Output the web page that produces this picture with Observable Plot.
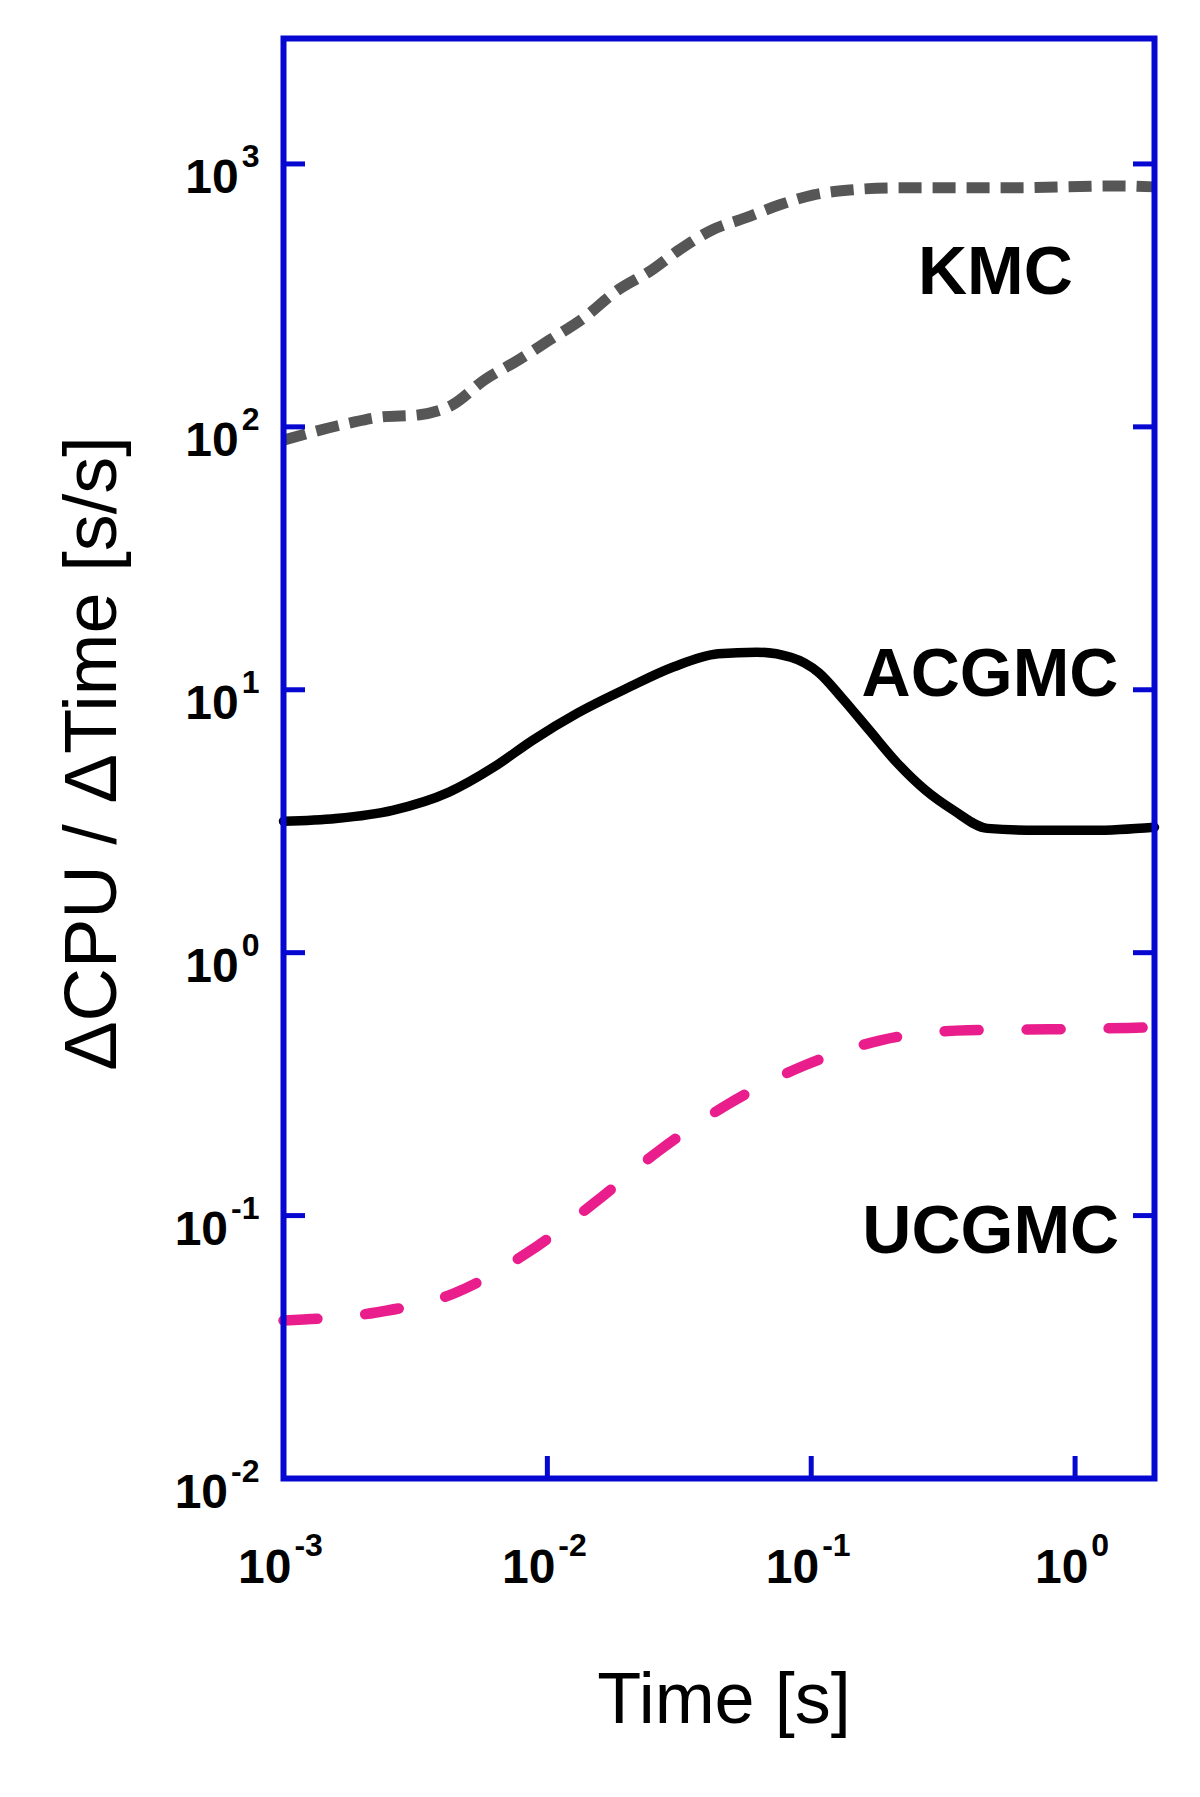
<!DOCTYPE html>
<html>
<head>
<meta charset="utf-8">
<script src="https://cdn.jsdelivr.net/npm/d3@7"></script>
<script src="https://cdn.jsdelivr.net/npm/@observablehq/plot@0.6"></script>
<style>
  html, body { margin: 0; padding: 0; background: #ffffff; }
  #chart svg { display: block; }
</style>
</head>
<body>
<div id="chart"></div>
<script>
// ---- data ----
const xTicks = [0.001, 0.01, 0.1, 1];
const yTicks = [0.01, 0.1, 1, 10, 100, 1000];

const kmcTime = [0.001, 0.00175, 0.00234, 0.00324, 0.00435, 0.00579, 0.0078, 0.0102, 0.0137, 0.0184, 0.0246, 0.0316, 0.0421, 0.0566, 0.076, 0.102, 0.14, 0.212, 0.567, 1.5, 2];
const kmcRate = [89, 103, 109, 111, 121, 151, 180, 214, 259, 330, 392, 471, 561, 625, 699, 763, 796, 811, 811, 825, 818];

const acgTime = [0.001, 0.00158, 0.00259, 0.00424, 0.00627, 0.0088, 0.013, 0.0203, 0.03, 0.0444, 0.0622, 0.0837, 0.107, 0.131, 0.166, 0.212, 0.271, 0.346, 0.465, 0.724, 1.18, 2];
const acgRate = [3.16, 3.24, 3.48, 4.08, 5.08, 6.43, 8.15, 10.2, 12.2, 13.7, 13.9, 13.3, 11.6, 9.3, 7.02, 5.26, 4.15, 3.48, 2.97, 2.92, 2.92, 3.0];

const ucgTime = [0.001, 0.00224, 0.00443, 0.00843, 0.0151, 0.0266, 0.0489, 0.0946, 0.183, 0.391, 0.797, 2];
const ucgRate = [0.0399, 0.0428, 0.0506, 0.0724, 0.112, 0.177, 0.267, 0.373, 0.464, 0.507, 0.511, 0.52];

const seriesNames = ["KMC", "ACGMC", "UCGMC"];
const labelTime = [0.98, 1.46, 1.47];
const labelRate = [386, 11.5, 0.0875];

const xTitle = "Time [s]";
const yTitle = "\u0394CPU / \u0394Time [s/s]";

// ---- tables built from the arrays ----
const zip = (t, v) => t.map((d, i) => ({t: d, v: v[i]}));
const kmc = zip(kmcTime, kmcRate);
const acg = zip(acgTime, acgRate);
const ucg = zip(ucgTime, ucgRate);
const labels = seriesNames.map((n, i) => ({name: n, t: labelTime[i], v: labelRate[i]}));

// ---- style ----
const blue = "#0707d2";
const fs10 = 48, fsE = 32;
const expStr = d => String(Math.round(Math.log10(d)));
const charW = c => (c === "-" ? 0.333 : 0.556);
const expWidth = s => [...s].reduce((a, c) => a + charW(c), 0) * fsE;
const w10 = 1.112 * fs10;

function yTickLabels(ticks) {
  const groups = [ticks.filter(d => d >= 1), ticks.filter(d => d < 1)];
  const marks = [];
  for (const g of groups) {
    if (!g.length) continue;
    const we = expWidth(expStr(g[0]));
    marks.push(Plot.text(g, {y: d => d, frameAnchor: "left", text: d => expStr(d), textAnchor: "end", lineAnchor: "bottom", dx: -24, dy: 3, fontSize: fsE, fontWeight: "bold", fill: "black"}));
    marks.push(Plot.text(g, {y: d => d, frameAnchor: "left", text: () => "10", textAnchor: "end", lineAnchor: "bottom", dx: -24 - we - 3, dy: 29, fontSize: fs10, fontWeight: "bold", fill: "black"}));
  }
  return marks;
}

function xTickLabels(ticks) {
  const groups = [ticks.filter(d => d >= 1), ticks.filter(d => d < 1)];
  const marks = [];
  for (const g of groups) {
    if (!g.length) continue;
    const we = expWidth(expStr(g[0]));
    const gap = 3;
    const start = -(w10 + gap + we) / 2 - 3;
    marks.push(Plot.text(g, {x: d => d, frameAnchor: "bottom", text: () => "10", textAnchor: "start", lineAnchor: "bottom", dx: start, dy: 104, fontSize: fs10, fontWeight: "bold", fill: "black"}));
    marks.push(Plot.text(g, {x: d => d, frameAnchor: "bottom", text: d => expStr(d), textAnchor: "start", lineAnchor: "bottom", dx: start + w10 + gap, dy: 77, fontSize: fsE, fontWeight: "bold", fill: "black"}));
  }
  return marks;
}

const chart = Plot.plot({
  width: 1200,
  height: 1797,
  marginLeft: 283,
  marginRight: 46,
  marginTop: 38,
  marginBottom: 319,
  style: {fontFamily: "'Liberation Sans', Arial, Helvetica, sans-serif", background: "#ffffff", color: "black"},
  x: {type: "log", domain: [0.001, 2], label: null},
  y: {type: "log", domain: [0.01, 3000], label: null},
  marks: [
    Plot.line(kmc, {x: "t", y: "v", stroke: "#565656", strokeWidth: 11, strokeDasharray: "23,11", strokeLinecap: "butt", curve: "monotone-x"}),
    Plot.line(acg, {x: "t", y: "v", stroke: "#000000", strokeWidth: 9.5, strokeLinecap: "round", curve: "monotone-x"}),
    Plot.line(ucg, {x: "t", y: "v", stroke: "#e91e8c", strokeWidth: 10.5, strokeDasharray: "34,48", strokeLinecap: "round", curve: "monotone-x"}),
    Plot.text(labels, {x: "t", y: "v", text: "name", textAnchor: "end", lineAnchor: "middle", fontSize: 68, fontWeight: "bold", fill: "black"}),
    Plot.frame({stroke: blue, strokeWidth: 6}),
    Plot.axisY(yTicks, {anchor: "left", tickSize: 22, dx: 22, stroke: blue, strokeWidth: 5, tickFormat: () => "", label: null}),
    Plot.axisY(yTicks, {anchor: "right", tickSize: 22, dx: -22, stroke: blue, strokeWidth: 5, tickFormat: () => "", label: null}),
    Plot.axisX(xTicks, {anchor: "bottom", tickSize: 22, dy: -22, stroke: blue, strokeWidth: 5, tickFormat: () => "", label: null}),
    ...yTickLabels(yTicks),
    ...xTickLabels(xTicks),
    Plot.text([yTitle], {frameAnchor: "left", text: d => d, rotate: -90, dx: -191, dy: -5, fontSize: 74, textAnchor: "middle", lineAnchor: "middle", fill: "black"}),
    Plot.text([xTitle], {frameAnchor: "bottom", text: d => d, dx: 5, dy: 244, fontSize: 72, textAnchor: "middle", lineAnchor: "bottom", fill: "black"})
  ]
});
document.getElementById("chart").appendChild(chart);
</script>
</body>
</html>
